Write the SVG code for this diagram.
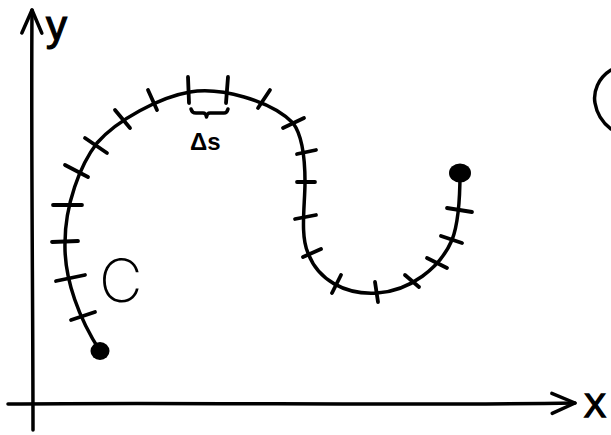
<svg xmlns="http://www.w3.org/2000/svg" width="611" height="435" viewBox="0 0 611 435">
<style>
.ln{fill:none;stroke:#000;stroke-width:3.5;stroke-linecap:round;stroke-linejoin:round}
.tk{fill:none;stroke:#000;stroke-width:3.8;stroke-linecap:round}
.lbl{font-family:"Liberation Sans",Arial,sans-serif;fill:#000}
.thin{font-family:Inter,"Open Sans","Liberation Sans",sans-serif;font-weight:200;fill:#000}
</style>
<defs>
<marker id="arr" markerUnits="userSpaceOnUse" viewBox="-28 -15 32 30" refX="0" refY="0" markerWidth="32" markerHeight="30" orient="auto" overflow="visible">
<path d="M-23,-10 L0,0 L-23,10" fill="none" stroke="#000" stroke-width="3.5" stroke-linecap="round" stroke-linejoin="round"/>
</marker>
</defs>
<rect width="611" height="435" fill="#fff"/>
<g id="axes">
<path class="ln" d="M33,430 C33,300 31,150 32,10" marker-end="url(#arr)"/>
<path class="ln" d="M8,404 C200,402 400,406 575,403" marker-end="url(#arr)"/>
</g>
<g id="curve">
<path class="ln" stroke-width="4" d="M100,351 C80,320 64,280 65,243 C65,205 80,165 97,143 C117,120 160,97 190,92 C220,87 270,100 293,123 C302,135 305,160 305,182 C305,205 300,235 308,253 C318,280 345,295 377,293 C410,291 440,268 452,240 C459,222 460,195 460,173"/>
<ellipse cx="100" cy="351" rx="9.5" ry="9"/>
<ellipse cx="460" cy="173" rx="11" ry="9.5"/>
</g>
<g id="ticks">
<line class="tk" x1="53" y1="205" x2="82" y2="205"/>
<line class="tk" x1="52" y1="242" x2="78" y2="241"/>
<line class="tk" x1="56" y1="281" x2="85" y2="275"/>
<line class="tk" x1="71" y1="320" x2="95" y2="312"/>
<line class="tk" x1="65" y1="165" x2="88" y2="177"/>
<line class="tk" x1="85" y1="138" x2="107" y2="153"/>
<line class="tk" x1="115" y1="110" x2="130" y2="128"/>
<line class="tk" x1="148" y1="90" x2="157" y2="110"/>
<line class="tk" x1="188" y1="77" x2="189" y2="103"/>
<line class="tk" x1="228" y1="77" x2="226" y2="103"/>
<line class="tk" x1="270" y1="90" x2="258" y2="108"/>
<line class="tk" x1="304" y1="118" x2="283" y2="128"/>
<line class="tk" x1="297" y1="154" x2="316" y2="150"/>
<line class="tk" x1="297" y1="182" x2="315" y2="182"/>
<line class="tk" x1="295" y1="219" x2="316" y2="215"/>
<line class="tk" x1="303" y1="257" x2="321" y2="249"/>
<line class="tk" x1="332" y1="293" x2="341" y2="275"/>
<line class="tk" x1="375" y1="282" x2="378" y2="302"/>
<line class="tk" x1="405" y1="275" x2="419" y2="287"/>
<line class="tk" x1="427" y1="258" x2="447" y2="268"/>
<line class="tk" x1="441" y1="236" x2="462" y2="243"/>
<line class="tk" x1="447" y1="208" x2="472" y2="212"/>
</g>
<g id="delta-s">
<path class="ln" stroke-width="2.8" d="M191,109 Q192,113 196,113 L203,113 Q206,113 206.5,117 Q207,113 210,113 L224,113 Q227,113 228,109"/>
<text class="lbl" x="190" y="150" font-size="24" font-weight="bold">Δs</text>
</g>
<g id="labels">
<text class="lbl" x="46" y="40" font-size="42" stroke="#000" stroke-width="1.2">y</text>
<text class="lbl" x="584" y="417" font-size="33" stroke="#000" stroke-width="1.5">X</text>
<text class="thin" x="99" y="302" font-size="60">C</text>
<path class="ln" d="M611,70 C598,78 593,92 595,103 C597,115 603,123 611,129"/>
</g>
</svg>
